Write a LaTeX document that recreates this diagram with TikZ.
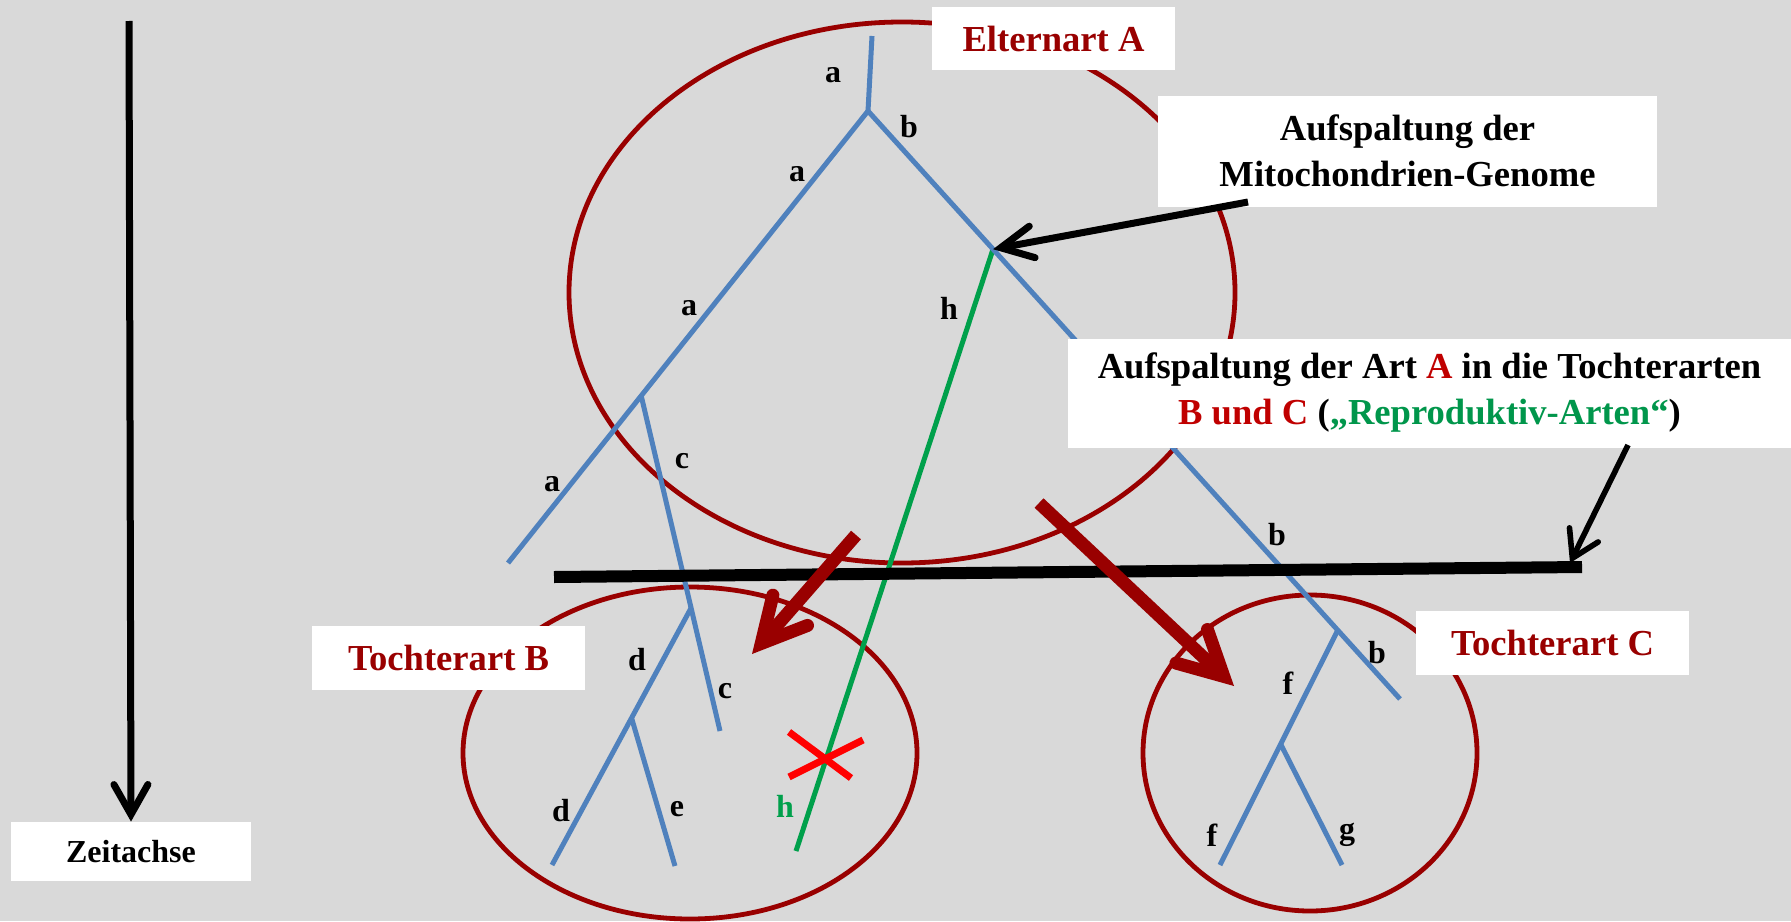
\documentclass[tikz,border=0pt]{standalone}
\usepackage{fontspec}
\setmainfont{Liberation Serif}
\usetikzlibrary{arrows.meta,calc}
\definecolor{bg}{HTML}{D9D9D9}
\definecolor{speciesred}{HTML}{990000}
\definecolor{branch}{HTML}{4F81BD}
\definecolor{mito}{HTML}{00A04B}
\definecolor{txtred}{HTML}{C00000}
\definecolor{txtgreen}{HTML}{00964B}
\begin{document}
\begin{tikzpicture}[x=0.5pt,y=-0.5pt,
  species/.style={draw=speciesred, line width=2.4pt},
  lineage/.style={draw=branch, line width=2.5pt},
  mitoline/.style={draw=mito, line width=2.5pt},
  lbl/.style={font=\fontsize{16}{19}\selectfont\bfseries, inner sep=0pt},
  box/.style={fill=white, inner sep=0pt, align=center, font=\fontsize{18.3}{23}\selectfont\bfseries},
  callout/.style={draw=black, line width=3.5pt},
  splitarrow/.style={draw=speciesred, line width=6.5pt, -{Straight Barb[length=22pt,width=23pt,line join=miter,line cap=round]}}
]
% canvas
\fill[bg] (0,0) rectangle (1791,921);
\useasboundingbox (0,0) rectangle (1791,921);

% species ellipses
\draw[species] (902,292.5) ellipse [x radius=333, y radius=270.5];
\draw[species] (690,753) ellipse [x radius=227, y radius=166];
\draw[species] (1310,753) ellipse [x radius=167, y radius=158];

% mitochondrial lineages
\coordinate (aTop) at (872,36);
\coordinate (r) at (868,111);
\coordinate (aEnd) at (508,563);
\coordinate (bEnd) at (1400,699);
\coordinate (cJ) at ($(r)!0.63!(aEnd)$);
\coordinate (cEnd) at (720,731);
\coordinate (hJ) at ($(r)!0.235!(bEnd)$);
\coordinate (hEnd) at (796,851);
\coordinate (dJ) at ($(cJ)!0.633!(cEnd)$);
\coordinate (dEnd) at (552,865);
\coordinate (eJ) at ($(dJ)!0.428!(dEnd)$);
\coordinate (eEnd) at (675,866);
\coordinate (fJ) at ($(r)!0.883!(bEnd)$);
\coordinate (fEnd) at (1220,865);
\coordinate (gJ) at ($(fJ)!0.485!(fEnd)$);
\coordinate (gEnd) at (1342,865);

\draw[mitoline] (hJ) -- (hEnd);
\draw[lineage] (aTop) -- (r);
\draw[lineage] (r) -- (aEnd);
\draw[lineage] (r) -- (bEnd);
\draw[lineage] (cJ) -- (cEnd);
\draw[lineage] (dJ) -- (dEnd);
\draw[lineage] (eJ) -- (eEnd);
\draw[lineage] (fJ) -- (fEnd);
\draw[lineage] (gJ) -- (gEnd);

% lineage labels
\node[lbl] (la1) at (833,75) {a};
\node[lbl] (lb1) at (909,127) {b};
\node[lbl] (la2) at (797,174) {a};
\node[lbl] (la3) at (689,308) {a};
\node[lbl] (lh1) at (949,308) {h};
\node[lbl] (lc1) at (682,461) {c};
\node[lbl] (la4) at (552,484) {a};
\node[lbl] (lb2) at (1277,535) {b};
\node[lbl] (ld1) at (637,660) {d};
\node[lbl] (lc2) at (725,691) {c};
\node[lbl] (lb3) at (1377,653) {b};
\node[lbl] (lf1) at (1288,683) {f};
\node[lbl] (ld2) at (561,811) {d};
\node[lbl] (le1) at (677,809) {e};
\node[lbl, text=mito] (lh2) at (785,806) {h};
\node[lbl] (lf2) at (1212,835) {f};
\node[lbl] (lg1) at (1347,835) {g};

% extinction mark on lineage h
\coordinate (x1) at (789,732);
\coordinate (x2) at (851,778);
\coordinate (x3) at (789,777);
\coordinate (x4) at (863,740);
\draw[red, line width=3.5pt] (x1) -- (x2);
\draw[red, line width=3.5pt] (x3) -- (x4);

% speciation line
\coordinate (barL) at (554,577);
\coordinate (barR) at (1582,567);
\draw[line width=6pt] (barL) -- (barR);

% text boxes
\node[box, minimum width=121.5pt, minimum height=31.5pt, text=speciesred] (elternA) at (1053.5,38.5) {Elternart A};
\node[box, minimum width=249.5pt, minimum height=55.5pt] (mitoBox) at (1407.5,151) {Aufspaltung der\\Mitochondrien-Genome};
\node[box, minimum width=361.5pt, minimum height=54.5pt] (artBox) at (1429.5,393) {Aufspaltung der Art \textcolor{txtred}{A} in die Tochterarten\\\textcolor{txtred}{B und C} (\textcolor{txtgreen}{„Reproduktiv-Arten“})};
\node[box, minimum width=136.5pt, minimum height=32pt, text=speciesred] (tochterB) at (448.5,658) {Tochterart B};
\node[box, minimum width=136.5pt, minimum height=32pt, text=speciesred] (tochterC) at (1552.5,643) {Tochterart C};
\node[box, minimum width=120pt, minimum height=29.5pt, font=\fontsize{16}{19}\selectfont\bfseries] (zeit) at (131,851.5) {Zeitachse};

% time axis
\coordinate (tTop) at (129,21);
\draw[callout, -{Straight Barb[length=15pt,width=17pt,line join=miter,line cap=round]}] (tTop) -- (zeit.north);

% callout arrows
\coordinate (mitoStart) at (1248,202);
\draw[callout, -{Straight Barb[length=16pt,width=16pt,line join=miter,line cap=round]}] (mitoStart) -- (hJ);
\coordinate (artStart) at (1628,445);
\coordinate (artTip) at (1570,563);
\draw[draw=black, line width=2.8pt, -{Straight Barb[length=13pt,width=16pt,line join=miter,line cap=round]}] (artStart) -- (artTip);

% speciation arrows
\coordinate (toBs) at (856,535);
\coordinate (toBe) at (752,654);
\coordinate (toCs) at (1039,503);
\coordinate (toCe) at (1234,686);
\draw[splitarrow] (toBs) -- (toBe);
\draw[splitarrow] (toCs) -- (toCe);
\end{tikzpicture}
\end{document}
